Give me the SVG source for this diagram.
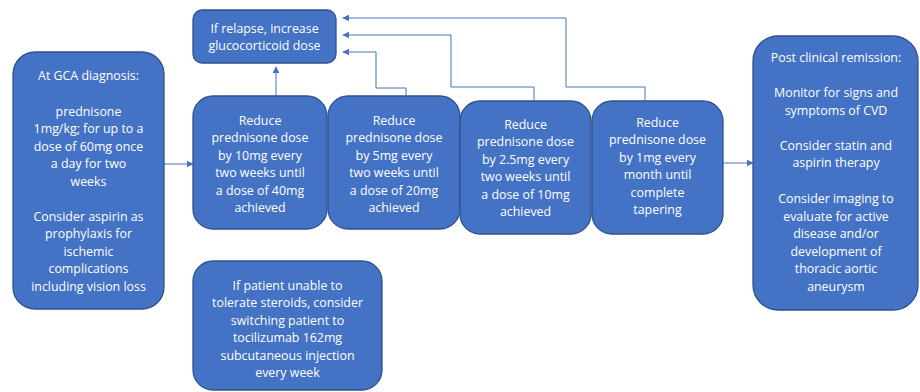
<svg xmlns="http://www.w3.org/2000/svg" width="920" height="392" viewBox="0 0 920 392">
<defs>
<marker id="ah" viewBox="0 0 10 10" refX="9" refY="5" markerWidth="7" markerHeight="7" markerUnits="userSpaceOnUse" orient="auto">
<path d="M0,0 L10,5 L0,10 z" fill="#4472C4"/>
</marker>
</defs>
<style>
.box{fill:#4472C4;stroke:#2F528F;stroke-width:1.3}
.t{font-family:"Open Sans","Liberation Sans",Arial,sans-serif;font-size:12.4px;fill:#ffffff;text-anchor:middle}
.c{fill:none;stroke:#4472C4;stroke-width:1;marker-end:url(#ah)}
</style>
<rect width="920" height="392" fill="#ffffff"/>
<g id="connectors">
<path class="c" d="M276,97 V67"/>
<path class="c" d="M645,101 V87 H566 V18 H343"/>
<path class="c" d="M534,100 V87 H451 V35 H343"/>
<path class="c" d="M406,97 V88 H376 V52 H343"/>
<path class="c" d="M164,164 H193"/>
<path class="c" d="M723,163 H753"/>
</g>
<g id="relapse">
<rect class="box" x="193" y="10" width="143" height="53" rx="9"/>
<text class="t" x="264.5" y="33">If relapse, increase</text>
<text class="t" x="264.5" y="50">glucocorticoid dose</text>
</g>
<g id="diagnosis">
<rect class="box" x="13" y="52" width="151" height="257" rx="22"/>
<text class="t" x="88.5" y="80">At GCA diagnosis:</text>
<text class="t" x="88.5" y="115.5">prednisone</text>
<text class="t" x="88.5" y="133">1mg/kg; for up to a</text>
<text class="t" x="88.5" y="150.5">dose of 60mg once</text>
<text class="t" x="88.5" y="168">a day for two</text>
<text class="t" x="88.5" y="185.5">weeks</text>
<text class="t" x="88.5" y="220.5">Consider aspirin as</text>
<text class="t" x="88.5" y="238">prophylaxis for</text>
<text class="t" x="88.5" y="255.5">ischemic</text>
<text class="t" x="88.5" y="273">complications</text>
<text class="t" x="88.5" y="290.5">including vision loss</text>
</g>
<g id="step1">
<rect class="box" x="193" y="96" width="134" height="133" rx="20"/>
<text class="t" x="260" y="124.5">Reduce</text>
<text class="t" x="260" y="142">prednisone dose</text>
<text class="t" x="260" y="159.5">by 10mg every</text>
<text class="t" x="260" y="177">two weeks until</text>
<text class="t" x="260" y="194.5">a dose of 40mg</text>
<text class="t" x="260" y="212">achieved</text>
</g>
<g id="step2">
<rect class="box" x="328" y="96" width="132" height="133" rx="20"/>
<text class="t" x="394" y="124.5">Reduce</text>
<text class="t" x="394" y="142">prednisone dose</text>
<text class="t" x="394" y="159.5">by 5mg every</text>
<text class="t" x="394" y="177">two weeks until</text>
<text class="t" x="394" y="194.5">a dose of 20mg</text>
<text class="t" x="394" y="212">achieved</text>
</g>
<g id="step3">
<rect class="box" x="460" y="101" width="131" height="133" rx="20"/>
<text class="t" x="525.5" y="128.5">Reduce</text>
<text class="t" x="525.5" y="146">prednisone dose</text>
<text class="t" x="525.5" y="163.5">by 2.5mg every</text>
<text class="t" x="525.5" y="181">two weeks until</text>
<text class="t" x="525.5" y="198.5">a dose of 10mg</text>
<text class="t" x="525.5" y="216">achieved</text>
</g>
<g id="step4">
<rect class="box" x="592" y="101" width="131" height="133" rx="20"/>
<text class="t" x="657.5" y="126.5">Reduce</text>
<text class="t" x="657.5" y="144">prednisone dose</text>
<text class="t" x="657.5" y="161.5">by 1mg every</text>
<text class="t" x="657.5" y="179">month until</text>
<text class="t" x="657.5" y="196.5">complete</text>
<text class="t" x="657.5" y="214">tapering</text>
</g>
<g id="remission">
<rect class="box" x="753" y="36" width="165" height="274" rx="25"/>
<text class="t" x="836" y="62">Post clinical remission:</text>
<text class="t" x="836" y="97">Monitor for signs and</text>
<text class="t" x="836" y="114.5">symptoms of CVD</text>
<text class="t" x="836" y="149.5">Consider statin and</text>
<text class="t" x="836" y="167">aspirin therapy</text>
<text class="t" x="836" y="203">Consider imaging to</text>
<text class="t" x="836" y="220.5">evaluate for active</text>
<text class="t" x="836" y="238">disease and/or</text>
<text class="t" x="836" y="255.5">development of</text>
<text class="t" x="836" y="273">thoracic aortic</text>
<text class="t" x="836" y="290.5">aneurysm</text>
</g>
<g id="tocilizumab">
<rect class="box" x="193" y="261" width="189" height="129" rx="20"/>
<text class="t" x="287.5" y="289.5">If patient unable to</text>
<text class="t" x="287.5" y="307">tolerate steroids, consider</text>
<text class="t" x="287.5" y="324.5">switching patient to</text>
<text class="t" x="287.5" y="342">tocilizumab 162mg</text>
<text class="t" x="287.5" y="359.5">subcutaneous injection</text>
<text class="t" x="287.5" y="377">every week</text>
</g>
</svg>
